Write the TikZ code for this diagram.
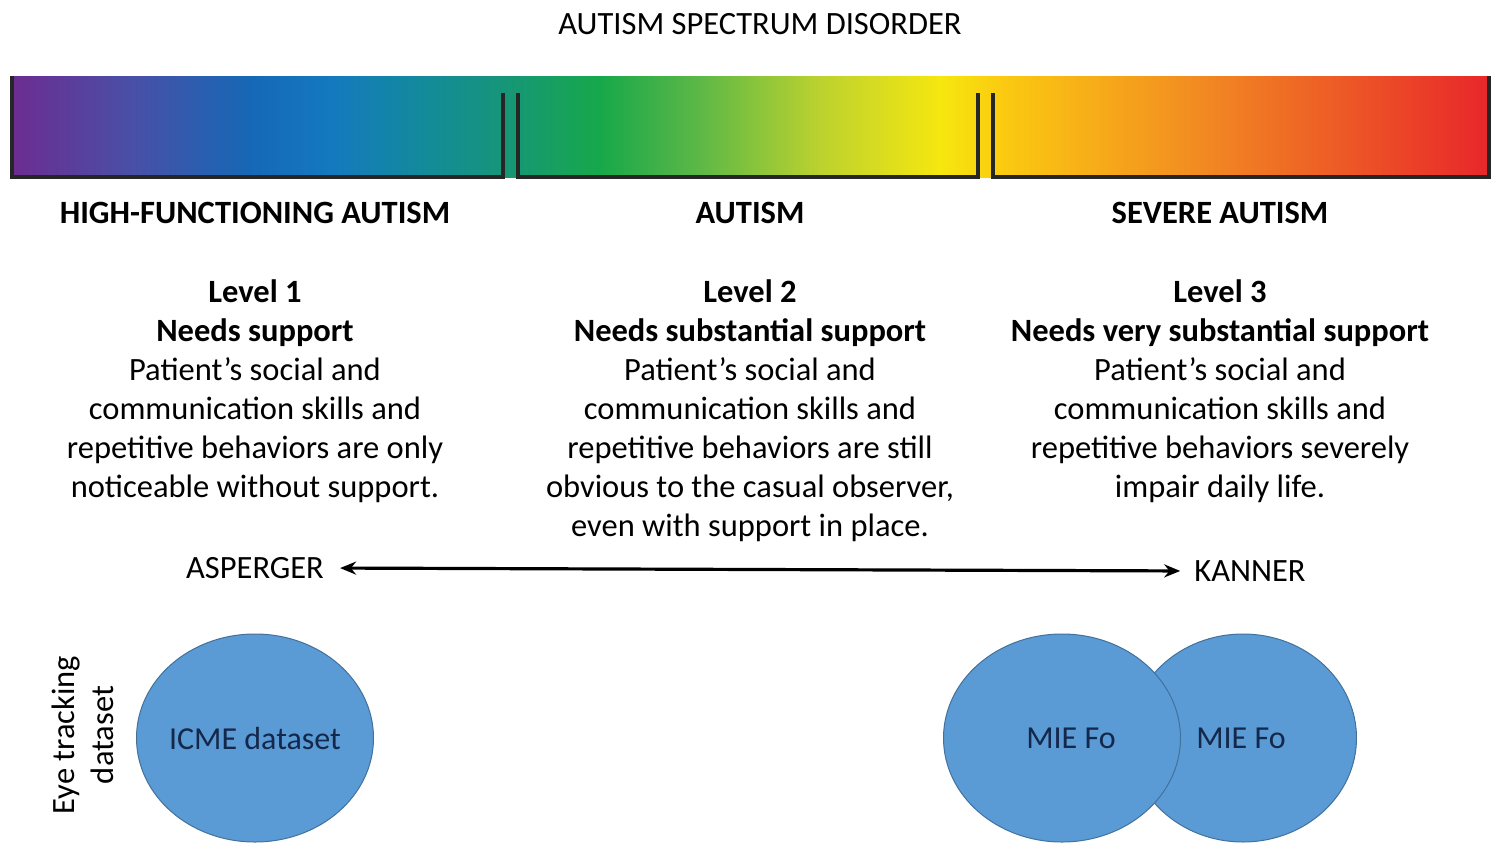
\documentclass[tikz,border=0pt]{standalone}
\usepackage{fontspec}
\setmainfont{Carlito}
\usetikzlibrary{arrows.meta,shapes.geometric}
\definecolor{c0}{HTML}{6C2C91}
\definecolor{c1}{HTML}{4A4FA6}
\definecolor{c2}{HTML}{1568B6}
\definecolor{c3}{HTML}{1479BF}
\definecolor{c4}{HTML}{138A9C}
\definecolor{c5}{HTML}{16957A}
\definecolor{c6}{HTML}{17A84A}
\definecolor{c7}{HTML}{5EB846}
\definecolor{c8}{HTML}{BCD22F}
\definecolor{c9}{HTML}{F6E70F}
\definecolor{c10}{HTML}{FBCB10}
\definecolor{c11}{HTML}{F28A22}
\definecolor{c12}{HTML}{E8262A}
\definecolor{blobfill}{HTML}{5B9BD5}
\definecolor{blobline}{HTML}{41719C}
\definecolor{blobtext}{HTML}{14284B}
\tikzset{
  body/.style={align=center, font=\fontsize{32.5}{39}\selectfont, inner sep=0pt},
  headtext/.style={font=\bfseries\fontsize{32.5}{36}\selectfont, inner sep=0pt},
  plain/.style={font=\fontsize{32.5}{36}\selectfont, inner sep=0pt},
  blob/.style={ellipse, fill=blobfill, draw=blobline, line width=1pt, inner sep=0pt},
  blobtxt/.style={text=blobtext, font=\fontsize{32}{36}\selectfont, inner sep=0pt},
  edge/.style={line width=3.5pt, draw=black!85},
}
\begin{document}
\begin{tikzpicture}[x=1pt,y=-1pt]
\useasboundingbox (0,0) rectangle (1500,860);
% gradient bar
\foreach \xa/\xb/\ca/\cb in {11/130/c0/c1,130/250/c1/c2,250/330/c2/c3,330/420/c3/c4,420/500/c4/c5,500/600/c5/c6,600/700/c6/c7,700/820/c7/c8,820/940/c8/c9,940/1000/c9/c10,1000/1200/c10/c11,1200/1490/c11/c12}{
  \shade[left color=\ca, right color=\cb] (\xa,76) rectangle (\xb+0.6,177);
}
% segment shadows
\draw[edge] (12,76) -- (12,177) -- (503,177) -- (503,93);
\draw[edge] (518,93) -- (518,177) -- (978,177) -- (978,93);
\draw[edge] (993,93) -- (993,177) -- (1489,177) -- (1489,76);
% title
\node[plain] (title) at (760,24) {AUTISM SPECTRUM DISORDER};
% headings
\node[headtext] (h1) at (255,213) {HIGH-FUNCTIONING AUTISM};
\node[headtext] (h2) at (750,213) {AUTISM};
\node[headtext] (h3) at (1220,213) {SEVERE AUTISM};
% level blocks
\node[body, anchor=north] (l1) at (255,279) {\textbf{Level 1}\\\textbf{Needs support}\\Patient’s social and\\communication skills and\\repetitive behaviors are only\\noticeable without support.};
\node[body, anchor=north] (l2) at (750,279) {\textbf{Level 2}\\\textbf{Needs substantial support}\\Patient’s social and\\communication skills and\\repetitive behaviors are still\\obvious to the casual observer,\\even with support in place.};
\node[body, anchor=north] (l3) at (1220,279) {\textbf{Level 3}\\\textbf{Needs very substantial support}\\Patient’s social and\\communication skills and\\repetitive behaviors severely\\impair daily life.};
% axis
\node[plain] (asp) at (255,568) {ASPERGER};
\node[plain] (kan) at (1250,571) {KANNER};
\draw[line width=3.2pt, {Stealth[length=16pt,width=13pt]}-{Stealth[length=16pt,width=13pt]}, shorten <=16pt, shorten >=14pt] (asp.east) -- (kan.west);
% datasets
\node[body, rotate=90] (eye) at (83,735) {Eye tracking\\dataset};
\node[blob, minimum width=237pt, minimum height=208pt] (icme) at (255,738) {};
\node[blobtxt] (ticme) at (icme.center) {ICME dataset};
\node[blob, minimum width=227pt, minimum height=208pt] (mie2) at (1243,738) {};
\node[blob, minimum width=237pt, minimum height=208pt] (mie1) at (1062,738) {};
\node[blobtxt] (t1) at (1071,738) {MIE Fo};
\node[blobtxt] (t2) at (1241,738) {MIE Fo};
\end{tikzpicture}
\end{document}
